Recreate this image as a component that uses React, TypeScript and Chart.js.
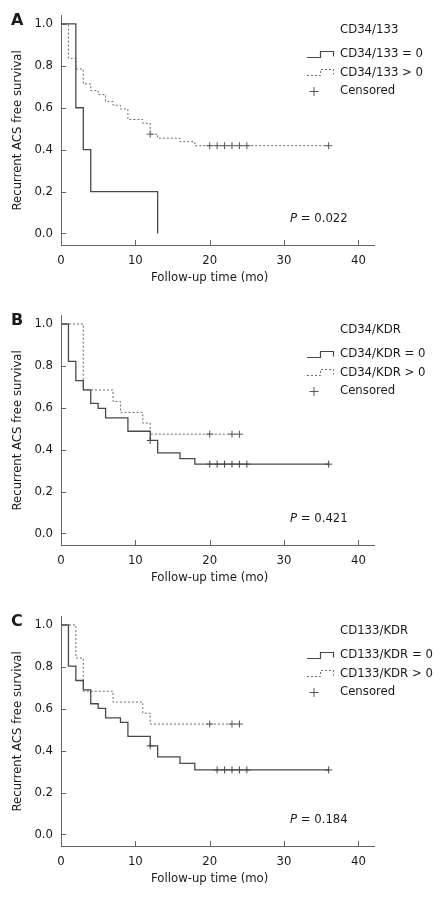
import React, { useEffect, useRef } from "react";
import { Chart, registerables } from "chart.js";
Chart.register(...registerables);

const FONT = "'DejaVu Sans Condensed', 'DejaVu Sans', sans-serif";
const TEXT = "#1a1a1a";
const AXIS = "#666666";
const SOLID = "#484848";
const DASH = "#6a6a6a";

const xTicks = [0, 10, 20, 30, 40];
const yTicks = [0, 0.2, 0.4, 0.6, 0.8, 1.0];
const xTitle = "Follow-up time (mo)";
const yTitle = "Recurrent ACS free survival";
const censoredLabel = "Censored";

// Panel A
const aGroup = "CD34/133";
const aSolidLabel = "CD34/133 = 0";
const aDashLabel = "CD34/133 > 0";
const aSolidTime = [0, 2, 3, 4, 13];
const aSolidSurv = [1, 0.6, 0.4, 0.2, 0];
const aSolidCens: number[] = [];
const aDashTime = [0, 1, 2, 3, 4, 5, 6, 7, 8, 9, 11, 12, 13, 16, 18, 36];
const aDashSurv = [1, 0.836, 0.785, 0.714, 0.682, 0.663, 0.63, 0.612, 0.594, 0.544, 0.526, 0.474, 0.455, 0.438, 0.419, 0.419];
const aDashCens = [12, 20, 21, 22, 23, 24, 25, 36];
const aP = "0.022";

// Panel B
const bGroup = "CD34/KDR";
const bSolidLabel = "CD34/KDR = 0";
const bDashLabel = "CD34/KDR > 0";
const bSolidTime = [0, 1, 2, 3, 4, 5, 6, 9, 12, 13, 16, 18, 36];
const bSolidSurv = [1, 0.821, 0.73, 0.685, 0.621, 0.597, 0.552, 0.488, 0.444, 0.385, 0.357, 0.331, 0.331];
const bSolidCens = [12, 20, 21, 22, 23, 24, 25, 36];
const bDashTime = [0, 3, 7, 8, 11, 12, 24];
const bDashSurv = [1, 0.685, 0.63, 0.578, 0.527, 0.474, 0.474];
const bDashCens = [20, 23, 24];
const bP = "0.421";

// Panel C
const cGroup = "CD133/KDR";
const cSolidLabel = "CD133/KDR = 0";
const cDashLabel = "CD133/KDR > 0";
const cSolidTime = [0, 1, 2, 3, 4, 5, 6, 8, 9, 12, 13, 16, 18, 36];
const cSolidSurv = [1, 0.804, 0.735, 0.69, 0.624, 0.602, 0.557, 0.535, 0.468, 0.423, 0.37, 0.339, 0.308, 0.308];
const cSolidCens = [12, 21, 22, 23, 24, 25, 36];
const cDashTime = [0, 2, 3, 7, 11, 12, 24];
const cDashSurv = [1, 0.842, 0.684, 0.632, 0.579, 0.527, 0.527];
const cDashCens = [20, 23, 24];
const cP = "0.184";

function survAt(times: number[], surv: number[], t: number) {
  let s = surv[0];
  for (let i = 0; i < times.length; i++) if (times[i] <= t) s = surv[i];
  return s;
}

type PanelProps = {
  label: string;
  group: string;
  solidLabel: string;
  dashLabel: string;
  solidTime: number[];
  solidSurv: number[];
  solidCens: number[];
  dashTime: number[];
  dashSurv: number[];
  dashCens: number[];
  p: string;
  top: number;
  height: number;
};

function Panel(props: PanelProps) {
  const ref = useRef<HTMLCanvasElement>(null);
  useEffect(() => {
    const canvas = ref.current!;
    const h = props.height;
    const decor = {
      id: "decor",
      afterDraw(chart: any) {
        const ctx = chart.ctx;
        const xs = chart.scales.x;
        const ys = chart.scales.y;
        const { left, bottom } = chart.chartArea;
        ctx.save();
        ctx.strokeStyle = AXIS;
        ctx.lineWidth = 1;
        xTicks.forEach((v) => {
          const px = Math.round(xs.getPixelForValue(v)) + 0.5;
          ctx.beginPath();
          ctx.moveTo(px, bottom);
          ctx.lineTo(px, bottom - 5);
          ctx.stroke();
        });
        yTicks.forEach((v) => {
          const py = Math.round(ys.getPixelForValue(v)) + 0.5;
          ctx.beginPath();
          ctx.moveTo(left, py);
          ctx.lineTo(left + 5, py);
          ctx.stroke();
        });
        // x title centered on data range
        ctx.fillStyle = TEXT;
        ctx.font = `13px ${FONT}`;
        ctx.textAlign = "center";
        ctx.textBaseline = "middle";
        ctx.fillText(xTitle, xs.getPixelForValue(20), 278);
        // panel label
        ctx.font = `bold 16px 'DejaVu Sans', sans-serif`;
        ctx.textAlign = "left";
        ctx.fillText(props.label, 11, 21);
        // legend
        ctx.font = `13px ${FONT}`;
        ctx.fillText(props.group, 340, 30);
        ctx.fillText(props.solidLabel, 340, 54);
        ctx.fillText(props.dashLabel, 340, 72.5);
        ctx.fillText(censoredLabel, 340, 91);
        ctx.strokeStyle = SOLID;
        ctx.lineWidth = 1.2;
        ctx.beginPath();
        ctx.moveTo(307, 57.5);
        ctx.lineTo(320.5, 57.5);
        ctx.lineTo(320.5, 51.5);
        ctx.lineTo(333.5, 51.5);
        ctx.lineTo(333.5, 56.5);
        ctx.stroke();
        ctx.strokeStyle = DASH;
        ctx.lineWidth = 1;
        ctx.setLineDash([2, 2]);
        ctx.beginPath();
        ctx.moveTo(307, 75.5);
        ctx.lineTo(320.5, 75.5);
        ctx.lineTo(320.5, 69.5);
        ctx.lineTo(333.5, 69.5);
        ctx.lineTo(333.5, 74.5);
        ctx.stroke();
        ctx.setLineDash([]);
        ctx.strokeStyle = "#555";
        ctx.beginPath();
        ctx.moveTo(309.5, 91.5);
        ctx.lineTo(318.5, 91.5);
        ctx.moveTo(314, 87);
        ctx.lineTo(314, 96);
        ctx.stroke();
        // p value
        ctx.fillStyle = TEXT;
        ctx.font = `italic 13px ${FONT}`;
        ctx.fillText("P", 290, 219);
        const pw = ctx.measureText("P").width;
        ctx.font = `13px ${FONT}`;
        ctx.fillText(" = " + props.p, 290 + pw, 219);
        ctx.restore();
      },
    };
    const chart = new Chart(canvas, {
      type: "scatter",
      data: {
        datasets: [
          {
            data: props.solidTime.map((t, i) => ({ x: t, y: props.solidSurv[i] })),
            showLine: true,
            stepped: true,
            borderColor: SOLID,
            borderWidth: 1.3,
            pointRadius: 0,
            fill: false,
          } as any,
          {
            data: props.dashTime.map((t, i) => ({ x: t, y: props.dashSurv[i] })),
            showLine: true,
            stepped: true,
            borderColor: DASH,
            borderWidth: 1,
            borderDash: [2, 2],
            pointRadius: 0,
            fill: false,
          } as any,
          {
            data: props.solidCens.map((t) => ({ x: t, y: survAt(props.solidTime, props.solidSurv, t) })),
            showLine: false,
            pointStyle: "cross",
            pointRadius: 3.5,
            borderColor: "#444",
            borderWidth: 1,
          } as any,
          {
            data: props.dashCens.map((t) => ({ x: t, y: survAt(props.dashTime, props.dashSurv, t) })),
            showLine: false,
            pointStyle: "cross",
            pointRadius: 3.5,
            borderColor: "#555",
            borderWidth: 1,
          } as any,
        ],
      },
      options: {
        animation: false,
        responsive: false,
        maintainAspectRatio: false,
        devicePixelRatio: 1,
        layout: { padding: { top: 12, right: 69, left: 0, bottom: 0 } },
        plugins: { legend: { display: false }, tooltip: { enabled: false } },
        scales: {
          x: {
            type: "linear",
            min: 0,
            max: 42.1,
            afterBuildTicks: (s: any) => {
              s.ticks = xTicks.map((v) => ({ value: v }));
            },
            afterFit: (s: any) => {
              s.height = h - 245;
            },
            grid: { display: false, drawTicks: false },
            border: { display: true, color: AXIS, width: 1 },
            ticks: {
              padding: 8,
              color: TEXT,
              maxRotation: 0,
              autoSkip: false,
              font: { family: FONT, size: 13 },
            },
          },
          y: {
            type: "linear",
            min: -0.055,
            max: 1.039,
            afterBuildTicks: (s: any) => {
              s.ticks = yTicks.map((v) => ({ value: v }));
            },
            afterFit: (s: any) => {
              s.width = 61;
            },
            grid: { display: false, drawTicks: false },
            border: { display: true, color: AXIS, width: 1 },
            ticks: {
              padding: 8,
              color: TEXT,
              autoSkip: false,
              font: { family: FONT, size: 13 },
              callback: (v: any) => Number(v).toFixed(1),
            },
            title: {
              display: true,
              text: yTitle,
              color: TEXT,
              padding: { top: 10, bottom: 0 },
              font: { family: FONT, size: 13 },
            },
          },
        },
      },
      plugins: [decor],
    });
    return () => chart.destroy();
  }, []);
  return (
    <div style={{ position: "absolute", left: 0, top: props.top, width: 443, height: props.height }}>
      <canvas ref={ref} width={443} height={props.height} style={{ display: "block" }} />
    </div>
  );
}

export default function App() {
  return (
    <div style={{ position: "absolute", left: 0, top: 0, width: 443, height: 898, background: "#fff" }}>
      <Panel label="A" group={aGroup} solidLabel={aSolidLabel} dashLabel={aDashLabel}
        solidTime={aSolidTime} solidSurv={aSolidSurv} solidCens={aSolidCens}
        dashTime={aDashTime} dashSurv={aDashSurv} dashCens={aDashCens} p={aP} top={0} height={300} />
      <Panel label="B" group={bGroup} solidLabel={bSolidLabel} dashLabel={bDashLabel}
        solidTime={bSolidTime} solidSurv={bSolidSurv} solidCens={bSolidCens}
        dashTime={bDashTime} dashSurv={bDashSurv} dashCens={bDashCens} p={bP} top={300} height={300} />
      <Panel label="C" group={cGroup} solidLabel={cSolidLabel} dashLabel={cDashLabel}
        solidTime={cSolidTime} solidSurv={cSolidSurv} solidCens={cSolidCens}
        dashTime={cDashTime} dashSurv={cDashSurv} dashCens={cDashCens} p={cP} top={601} height={297} />
    </div>
  );
}
